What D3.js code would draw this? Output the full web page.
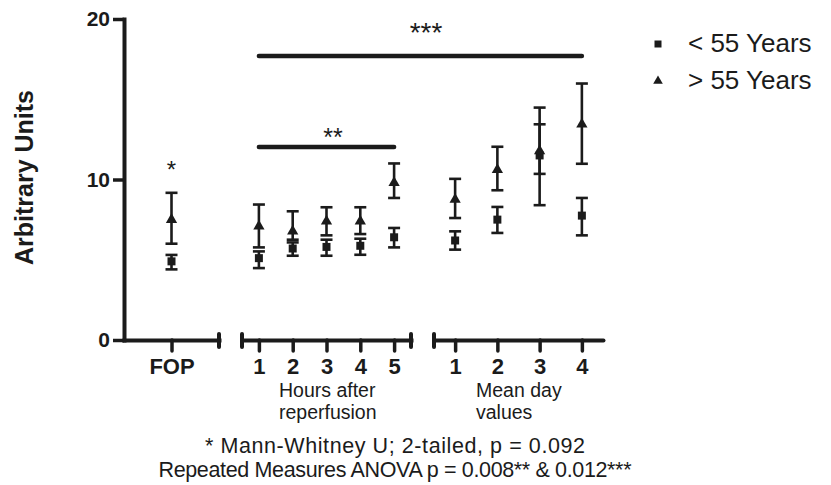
<!DOCTYPE html>
<html><head><meta charset="utf-8">
<script src="https://cdn.jsdelivr.net/npm/d3@7"></script>
<style>body{margin:0;background:#fff}svg{display:block;font-family:"Liberation Sans",Arial,Helvetica,sans-serif}</style>
</head><body><svg id="chart" width="831" height="485"></svg>
<script>
// ---- data ----
const categories = ["FOP","h1","h2","h3","h4","h5","d1","d2","d3","d4"];
const tickLabels = ["FOP","1","2","3","4","5","1","2","3","4"];
const segmentOf  = [0,1,1,1,1,1,2,2,2,2];
const yTicks = [0, 10, 20];
const seriesNames = ["< 55 Years", "> 55 Years"];

// < 55 Years (squares)
const under55Mean = [4.9, 5.1, 5.7, 5.8, 5.87, 6.4, 6.2, 7.5, 11.5, 7.75];
const under55Low  = [4.4, 4.48, 5.25, 5.25, 5.31, 5.77, 5.63, 6.67, 10.35, 6.52];
const under55High = [5.3, 5.52, 6.08, 6.25, 6.31, 6.98, 6.77, 8.29, 13.44, 8.85];

// > 55 Years (triangles)
const over55Mean = [7.5, 7.08, 6.77, 7.4, 7.4, 9.79, 8.75, 10.6, 11.77, 13.44];
const over55Low  = [6.0, 5.77, 6.25, 6.52, 6.6, 8.85, 7.6, 9.33, 8.4, 10.98];
const over55High = [9.17, 8.44, 8.02, 8.27, 8.27, 11.0, 10.04, 12.04, 14.48, 15.98];

const sectionLabels = [["Hours after", "reperfusion"], ["Mean day", "values"]];
const footnotes = ["* Mann-Whitney U; 2-tailed, p = 0.092",
                   "Repeated Measures ANOVA p = 0.008** & 0.012***"];

// ---- layout ----
const ink = "#1b1b1b";
const fam = '"Liberation Sans",Arial,sans-serif';
const svg = d3.select("#chart");
const y = d3.scaleLinear().domain([0, 20]).range([340, 19]);
const segRanges = [[124, 219], [242, 411], [434, 603]];
const segScales = segRanges.map((r, s) =>
  d3.scalePoint().domain(categories.filter((c, i) => segmentOf[i] === s)).range(r).padding(0.5));
const xOf = c => segScales[segmentOf[categories.indexOf(c)]](c);

// y axis
const yAxis = svg.append("g").attr("transform", "translate(124,0)")
  .call(d3.axisLeft(y).tickValues(yTicks).tickSize(11).tickSizeOuter(0).tickPadding(3));
yAxis.select(".domain").attr("stroke", ink).attr("stroke-width", 4).attr("stroke-linecap", "square");
yAxis.selectAll(".tick line").attr("stroke", ink).attr("stroke-width", 3.5);
yAxis.selectAll(".tick text").attr("fill", ink).style("font-size", "21px").style("font-weight", "bold")
  .style("font-family", fam);

// x axes (segments)
segScales.forEach((sc, s) => {
  const g = svg.append("g").attr("transform", `translate(0,${y(0)})`)
    .call(d3.axisBottom(sc).tickSize(11).tickSizeOuter(0).tickPadding(7)
      .tickFormat(d => tickLabels[categories.indexOf(d)]));
  g.select(".domain").attr("stroke", ink).attr("stroke-width", 4).attr("stroke-linecap", s === 2 ? "round" : "square");
  g.selectAll(".tick line").attr("stroke", ink).attr("stroke-width", 3.5).attr("stroke-linecap", "round");
  g.selectAll(".tick text").attr("fill", ink).style("font-size", "22px").style("font-weight", "bold")
    .style("font-family", fam);
});
// segment end caps
const caps = [segRanges[0][1], segRanges[1][0], segRanges[1][1], segRanges[2][0]];
svg.append("g").selectAll("line").data(caps).join("line")
  .attr("x1", d => d).attr("x2", d => d).attr("y1", y(0) - 6).attr("y2", y(0) + 7)
  .attr("stroke", ink).attr("stroke-width", 4).attr("stroke-linecap", "round");

// y axis title
svg.append("text").attr("transform", `translate(33,${(y(0)+y(20))/2 - 2}) rotate(-90)`)
  .attr("text-anchor", "middle").attr("fill", ink).style("font-size", "25px").style("font-weight", "bold")
  .text("Arbitrary Units");

// error bars + markers
function drawSeries(mean, low, high, symType, symSize) {
  const g = svg.append("g");
  const data = categories.map((c, i) => ({c, m: mean[i], lo: low[i], hi: high[i]}));
  g.selectAll("line.v").data(data).join("line").attr("class", "v")
    .attr("x1", d => xOf(d.c)).attr("x2", d => xOf(d.c)).attr("y1", d => y(d.lo)).attr("y2", d => y(d.hi))
    .attr("stroke", ink).attr("stroke-width", 2.6);
  ["lo", "hi"].forEach(k => {
    g.selectAll("line." + k).data(data).join("line").attr("class", k)
      .attr("x1", d => xOf(d.c) - 6).attr("x2", d => xOf(d.c) + 6)
      .attr("y1", d => y(d[k])).attr("y2", d => y(d[k]))
      .attr("stroke", ink).attr("stroke-width", 2.6);
  });
  g.selectAll("path").data(data).join("path")
    .attr("transform", d => `translate(${xOf(d.c)},${y(d.m)})`)
    .attr("d", d3.symbol(symType, symSize)).attr("fill", ink);
}
drawSeries(under55Mean, under55Low, under55High, d3.symbolSquare, 64);
drawSeries(over55Mean, over55Low, over55High, d3.symbolTriangle, 55);

// significance bars
const sig = [
  {from: "h1", to: "h5", yPos: 147},
  {from: "h1", to: "d4", yPos: 56}
];
sig.forEach(s => {
  svg.append("line").attr("x1", xOf(s.from)).attr("x2", xOf(s.to)).attr("y1", s.yPos).attr("y2", s.yPos)
    .attr("stroke", ink).attr("stroke-width", 4.5).attr("stroke-linecap", "round");
});
svg.append("text").attr("x", 333).attr("y", 146).attr("text-anchor", "middle").attr("fill", ink)
  .style("font-size", "25px").text("**");
svg.append("text").attr("x", 426).attr("y", 42).attr("text-anchor", "middle").attr("fill", ink)
  .style("font-size", "28px").text("***");
svg.append("text").attr("x", xOf("FOP")).attr("y", 178).attr("text-anchor", "middle").attr("fill", ink)
  .style("font-size", "24px").text("*");

// section labels
const secX = [279, 476];
sectionLabels.forEach((lines, i) => {
  lines.forEach((t, j) => {
    svg.append("text").attr("x", secX[i]).attr("y", 397 + j * 22).attr("fill", ink)
      .style("font-size", "19.5px").text(t);
  });
});

// footnotes
const footWidths = [380, 473];
footnotes.forEach((t, j) => {
  svg.append("text").attr("x", 395).attr("y", 453 + j * 24).attr("text-anchor", "middle").attr("fill", ink)
    .attr("textLength", footWidths[j]).attr("lengthAdjust", "spacing")
    .style("font-size", "21.5px").text(t);
});

// legend
const legend = svg.append("g");
const symTypes = [d3.symbolSquare, d3.symbolTriangle];
const symSizes = [49, 40];
seriesNames.forEach((n, i) => {
  const ly = 44 + i * 37;
  legend.append("path").attr("transform", `translate(658,${ly})`).attr("d", d3.symbol(symTypes[i], symSizes[i])).attr("fill", ink);
  legend.append("text").attr("x", 688).attr("y", ly + 8).attr("fill", ink).style("font-size", "26px").text(n);
});
</script></body></html>
